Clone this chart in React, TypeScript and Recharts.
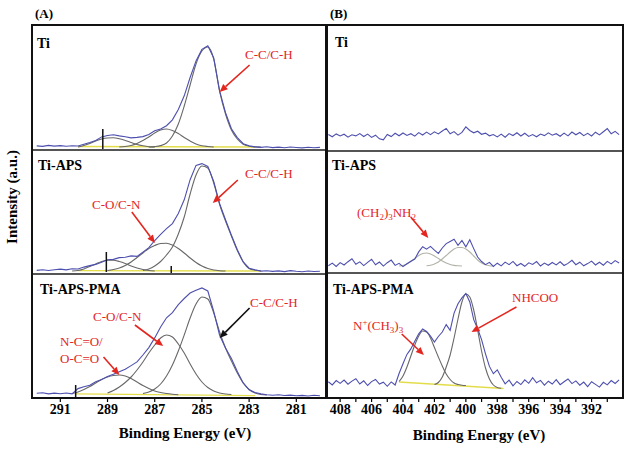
import React from 'react';
import { LineChart, Line, XAxis, YAxis, ReferenceLine } from 'recharts';

const FONT = '"Liberation Serif", "Times New Roman", Times, "DejaVu Serif", "Noto Serif", serif';
const BLUE = '#4d4fae';
const GREY = '#686868';
const GREY_LIGHT = '#b2b2a8';
const YELLOW = '#e3dd4c';
const RED = '#e3261f';

// C 1s energy grid (eV)
const EV_C = [
  292.0, 291.75, 291.5, 291.25, 291.0, 290.75, 290.5, 290.25, 290.0, 289.75,
  289.5, 289.25, 289.0, 288.75, 288.5, 288.25, 288.0, 287.75, 287.5, 287.25,
  287.0, 286.75, 286.5, 286.25, 286.0, 285.75, 285.5, 285.25, 285.0, 284.75,
  284.5, 284.25, 284.0, 283.75, 283.5, 283.25, 283.0, 282.75, 282.5, 282.25,
  282.0, 281.75, 281.5, 281.25, 281.0, 280.75, 280.5, 280.25, 280.0,
];

// N 1s energy grid (eV)
const EV_N = [
  408.75, 408.5, 408.25, 408.0, 407.75, 407.5, 407.25, 407.0, 406.75, 406.5,
  406.25, 406.0, 405.75, 405.5, 405.25, 405.0, 404.75, 404.5, 404.25, 404.0,
  403.75, 403.5, 403.25, 403.0, 402.75, 402.5, 402.25, 402.0, 401.75, 401.5,
  401.25, 401.0, 400.75, 400.5, 400.25, 400.0, 399.75, 399.5, 399.25, 399.0,
  398.75, 398.5, 398.25, 398.0, 397.75, 397.5, 397.25, 397.0, 396.75, 396.5,
  396.25, 396.0, 395.75, 395.5, 395.25, 395.0, 394.75, 394.5, 394.25, 394.0,
  393.75, 393.5, 393.25, 393.0, 392.75, 392.5, 392.25, 392.0, 391.75, 391.5,
  391.25, 391.0, 390.75, 390.5, 390.25,
];

const TICKS_C = [291, 289, 287, 285, 283, 281];
const TICKS_N = [408, 407, 406, 405, 404, 403, 402, 401, 400, 399, 398, 397, 396, 395, 394, 393, 392, 391];

// measured spectra (a.u.)
const TI_C = [
  4.1, 3.6, 4.6, 3.9, 4.4, 3.7, 4.3, 4.0, 5.7, 7.4, 9.6, 13.1, 14.5, 15.2, 14.1, 13.2, 12.1, 12.6, 13.4, 15.6,
  19.2, 21.1, 24.3, 30.2, 40.5, 54.2, 72.5, 89.1, 100.6, 104.3, 92.1, 59.2, 37.3, 21.2, 12.4, 6.3, 4.2, 3.1, 2.6, 3.2,
  2.4, 2.9, 2.2, 3.0, 2.5, 2.1, 2.8, 2.3, 2.6,
];
const APS_C = [
  3.6, 4.3, 3.5, 4.2, 4.9, 4.1, 5.2, 5.0, 6.9, 8.4, 9.6, 11.8, 14.3, 14.6, 16.4, 16.7, 18.1, 17.6, 21.9, 26.4,
  33.5, 39.6, 45.3, 50.4, 60.5, 74.2, 94.3, 108.6, 110.4, 107.6, 92.5, 70.4, 54.2, 38.7, 24.3, 12.1, 5.8, 4.2, 2.9, 3.3,
  2.6, 3.1, 2.4, 3.4, 2.7, 2.2, 3.0, 2.5, 2.8,
];
const PMA_C = [
  4.8, 5.2, 4.1, 4.9, 4.3, 5.0, 4.2, 9.4, 11.2, 12.7, 16.3, 18.4, 21.6, 23.7, 26.3, 28.8, 32.4, 36.1, 43.0, 50.4,
  60.1, 71.0, 80.2, 85.4, 93.3, 99.5, 105.0, 107.7, 110.1, 107.0, 86.6, 62.8, 49.9, 39.4, 26.5, 15.1, 8.2, 5.4, 4.1, 3.3,
  2.7, 3.2, 2.5, 2.9, 2.2, 2.6, 2.0, 2.7, 2.3,
];
const TI_N = [
  15.5, 13.2, 16.1, 14.0, 15.8, 12.9, 15.2, 14.1, 16.4, 13.5, 15.9, 12.6, 14.8, 11.2, 10.1, 15.6, 13.4, 16.7, 14.2, 17.0,
  14.6, 16.3, 13.9, 17.4, 15.0, 17.9, 15.3, 18.2, 16.1, 19.0, 21.6, 16.2, 18.4, 14.9, 17.6, 23.1, 19.5, 17.2, 18.8, 15.7,
  16.9, 14.2, 15.5, 13.1, 15.9, 12.8, 16.4, 14.5, 17.2, 14.0, 16.8, 13.6, 15.4, 13.2, 16.0, 14.4, 17.1, 14.8, 16.3, 13.7,
  16.9, 14.1, 18.0, 15.2, 17.5, 14.3, 16.6, 14.0, 17.8, 15.1, 18.3, 21.4, 16.2, 18.6, 15.4,
];
const APS_N = [
  8.2, 10.9, 7.6, 11.4, 9.0, 12.3, 15.2, 9.8, 12.1, 8.4, 11.6, 14.8, 9.2, 12.0, 7.9, 11.3, 13.9, 8.6, 10.7, 7.4,
  10.2, 12.8, 15.0, 22.1, 27.3, 24.9, 27.6, 23.8, 20.6, 26.0, 30.4, 32.6, 34.8, 28.7, 33.5, 27.1, 34.2, 25.4, 17.0, 12.5,
  9.3, 11.6, 7.5, 10.8, 8.1, 11.9, 9.4, 12.6, 8.3, 10.5, 7.7, 11.2, 9.6, 12.4, 8.0, 10.9, 8.7, 11.5, 9.1, 12.2,
  8.5, 10.6, 13.7, 9.3, 11.8, 8.2, 10.4, 12.9, 9.0, 11.7, 8.8, 12.6, 10.1, 13.4, 11.0,
];
const PMA_N = [
  16.2, 13.1, 17.4, 14.6, 18.0, 13.8, 16.9, 19.3, 14.0, 17.2, 12.5, 16.4, 18.6, 13.9, 15.8, 11.7, 16.1, 13.0, 24.5, 34.2,
  43.6, 49.1, 56.8, 64.2, 69.0, 66.5, 61.8, 55.9, 61.5, 66.0, 73.4, 67.6, 84.9, 94.3, 100.1, 104.6, 96.0, 78.4, 69.3, 58.4,
  44.2, 31.6, 24.3, 28.2, 20.8, 14.1, 17.8, 12.2, 16.5, 13.4, 18.1, 14.7, 20.3, 15.2, 17.6, 12.9, 16.8, 14.0, 18.4, 13.3,
  16.2, 19.0, 14.4, 17.1, 12.8, 15.9, 11.4, 16.3, 13.6, 10.9, 15.7, 13.1, 17.4, 14.5, 18.2,
];

// fitted components [eV, a.u.]
const TI_C_CC = [[287.25, 3], [287.0, 3.4], [286.75, 4.4], [286.5, 7], [286.25, 14], [286.0, 26], [285.75, 44], [285.5, 65], [285.25, 86], [285.0, 99], [284.75, 103], [284.5, 91], [284.25, 58.5], [284.0, 36], [283.75, 20], [283.5, 11], [283.25, 5.8], [283.0, 3.8], [282.75, 3.1], [282.5, 3]];
const TI_C_CO = [[288.5, 3], [288.25, 3.5], [288.0, 4.5], [287.75, 6.5], [287.5, 9.5], [287.25, 13], [287.0, 17], [286.75, 20], [286.5, 21], [286.25, 19.5], [286.0, 16.5], [285.75, 12.5], [285.5, 9], [285.25, 6], [285.0, 4.3], [284.75, 3.5], [284.5, 3]];
const TI_C_OCO = [[290.25, 3], [290.0, 4.5], [289.75, 6.5], [289.5, 9], [289.25, 11], [289.0, 12], [288.75, 12.2], [288.5, 11.2], [288.25, 9.5], [288.0, 7.5], [287.75, 5.5], [287.5, 4.2], [287.25, 3.3], [287.0, 3]];
const TI_C_BASE = [[290.25, 3.5], [282.75, 3]];

const APS_C_CC = [[287.5, 3.5], [287.25, 5], [287.0, 8], [286.75, 12.5], [286.5, 19], [286.25, 27], [286.0, 40], [285.75, 57], [285.5, 80], [285.25, 99], [285.0, 108], [284.75, 106], [284.5, 91], [284.25, 69.5], [284.0, 53], [283.75, 38], [283.5, 23.5], [283.25, 12], [283.0, 5.5], [282.75, 3.8], [282.5, 3.2]];
const APS_C_CO = [[289.0, 3.5], [288.75, 4.5], [288.5, 6], [288.25, 8.5], [288.0, 12], [287.75, 16.5], [287.5, 21], [287.25, 25.5], [287.0, 28.5], [286.75, 30.5], [286.5, 30.8], [286.25, 29], [286.0, 25.5], [285.75, 21], [285.5, 16], [285.25, 11.5], [285.0, 8], [284.75, 5.5], [284.5, 4], [284.25, 3.3], [284.0, 3]];
const APS_C_OCO = [[290.5, 3], [290.25, 3.5], [290.0, 5], [289.75, 7.5], [289.5, 10], [289.25, 12.5], [289.0, 13.8], [288.75, 13.8], [288.5, 12.5], [288.25, 10.5], [288.0, 8], [287.75, 6], [287.5, 4.5], [287.25, 3.5], [287.0, 3]];
const APS_C_BASE = [[290.25, 3.3], [282.5, 3]];

const PMA_C_CC = [[287.5, 4.5], [287.25, 6], [287.0, 9], [286.75, 14], [286.5, 22], [286.25, 33], [286.0, 47], [285.75, 63], [285.5, 80], [285.25, 94], [285.0, 101], [284.75, 99], [284.5, 85], [284.25, 66], [284.0, 50], [283.75, 37], [283.5, 25], [283.25, 15], [283.0, 8.5], [282.75, 5], [282.5, 3.5], [282.25, 3]];
const PMA_C_CO = [[289.0, 5], [288.75, 7.5], [288.5, 11], [288.25, 15.5], [288.0, 21], [287.75, 28], [287.5, 36], [287.25, 45], [287.0, 53], [286.75, 60], [286.5, 63], [286.25, 61], [286.0, 54], [285.75, 45], [285.5, 34], [285.25, 24], [285.0, 16], [284.75, 10.5], [284.5, 7], [284.25, 5], [284.0, 4], [283.75, 3.5]];
const PMA_C_NCO = [[290.5, 4.5], [290.25, 6], [290.0, 8.5], [289.75, 11.5], [289.5, 15], [289.25, 18.5], [289.0, 21], [288.75, 22.5], [288.5, 23], [288.25, 22], [288.0, 19.5], [287.75, 16], [287.5, 12.5], [287.25, 9.5], [287.0, 7], [286.75, 5.5], [286.5, 4.5], [286.25, 3.8], [286.0, 3.3]];
const PMA_C_BASE = [[290.35, 4.2], [282.75, 2.4]];

const APS_N_1 = [[404.25, 8], [404.0, 8.5], [403.75, 10], [403.5, 12.5], [403.25, 15.5], [403.0, 18.5], [402.75, 20.5], [402.5, 21], [402.25, 20], [402.0, 18], [401.75, 15.5], [401.5, 13], [401.25, 11], [401.0, 9.5], [400.75, 8.6], [400.5, 8.2], [400.25, 8]];
const APS_N_2 = [[402.5, 8.2], [402.25, 8.8], [402.0, 10], [401.75, 12], [401.5, 15], [401.25, 18.5], [401.0, 22], [400.75, 25], [400.5, 26.5], [400.25, 26.5], [400.0, 25], [399.75, 22], [399.5, 18], [399.25, 14], [399.0, 11], [398.75, 9.2], [398.5, 8.3], [398.25, 8]];

const PMA_N_1 = [[404.25, 16.5], [404.0, 22], [403.75, 31], [403.5, 42], [403.25, 53], [403.0, 62], [402.75, 67], [402.5, 66], [402.25, 60], [402.0, 50.5], [401.75, 41], [401.5, 32], [401.25, 24], [401.0, 18.5], [400.75, 15], [400.5, 13.5], [400.25, 12.8], [400.0, 12.5]];
const PMA_N_2 = [[402.0, 13.5], [401.75, 15.5], [401.5, 21], [401.25, 31], [401.0, 43], [400.75, 60], [400.5, 79], [400.25, 96], [400.0, 104], [399.75, 101], [399.5, 88], [399.25, 68], [399.0, 47], [398.75, 30], [398.5, 19], [398.25, 13], [398.0, 10.5], [397.75, 9.8]];
const PMA_N_BASE = [[404.25, 16], [397.6, 9.5]];

// fit range markers [eV, from, to]
const TI_C_MARKS = [[289.2, 1, 21]];
const APS_C_MARKS = [[289.05, 2, 22], [286.3, 0.5, 8]];
const PMA_C_MARKS = [[290.35, 0, 13]];

// annotation arrows: from [eV, a.u.] -> to [eV, a.u.]
const TI_C_ARROWS = [{ from: [282.98, 85], to: [284.25, 58], color: RED }];
const APS_C_ARROWS = [
  { from: [283.48, 94], to: [284.54, 71], color: RED },
  { from: [287.97, 62], to: [286.99, 31], color: RED },
];
const PMA_C_ARROWS = [
  { from: [282.98, 90], to: [284.25, 60], color: '#111' },
  { from: [287.84, 73], to: [286.64, 52], color: RED },
  { from: [289.17, 41], to: [288.5, 23], color: RED },
];
const APS_N_ARROWS = [{ from: [403.51, 57], to: [402.39, 36], color: RED }];
const PMA_N_ARROWS = [
  { from: [404.08, 64], to: [402.67, 43], color: RED },
  { from: [396.78, 91], to: [399.64, 66], color: RED },
];

const ROW_H = 124;
const ROW_TOPS = [26, 150, 274];
const COL_A = { left: 32, width: 295, domain: [279.7, 292.2] };
const COL_B = { left: 326, width: 297, domain: [390.0, 408.9] };

const zip = (evs: number[], vals: number[]) => evs.map((ev, i) => ({ ev, v: vals[i] }));
const pairs = (list: number[][]) => list.map(([ev, v]) => ({ ev, v }));

function arrowShape(color: string) {
  return (p: any) => {
    const { x1, y1, x2, y2 } = p;
    const a = Math.atan2(y2 - y1, x2 - x1);
    const len = 8;
    const half = 3.5;
    const bx = x2 - len * Math.cos(a);
    const by = y2 - len * Math.sin(a);
    const nx = -Math.sin(a) * half;
    const ny = Math.cos(a) * half;
    return (
      <g>
        <line x1={x1} y1={y1} x2={bx} y2={by} stroke={color} strokeWidth={1.6} />
        <polygon points={`${x2},${y2} ${bx + nx},${by + ny} ${bx - nx},${by - ny}`} fill={color} />
      </g>
    );
  };
}

const tickText = (evenOnly: boolean) => (props: any) => {
  const { x, y, payload } = props;
  if (evenOnly && payload.value % 2 !== 0) return <g />;
  return (
    <text x={x} y={y} dy="0.71em" textAnchor="middle" fontSize={14} fontWeight="bold" fill="#000" style={{ fontFamily: FONT }}>
      {payload.value}
    </text>
  );
};

function Panel({ col, row, evs, raw, fits = [], fitColor = GREY, base, marks = [], arrows = [], ticks, evenOnly = false }: any) {
  const axis = !!ticks;
  return (
    <div style={{ position: 'absolute', left: col.left, top: ROW_TOPS[row] }}>
      <LineChart width={col.width} height={axis ? ROW_H + 26 : ROW_H} margin={{ top: 0, right: 0, bottom: 0, left: 0 }}>
        <XAxis
          type="number"
          dataKey="ev"
          domain={col.domain}
          reversed
          allowDataOverflow
          hide={!axis}
          ticks={ticks}
          interval={0}
          tickSize={4}
          tickLine={{ stroke: '#000', strokeWidth: 1.2 }}
          axisLine={false}
          height={26}
          tick={tickText(evenOnly)}
        />
        <YAxis type="number" domain={[0, ROW_H]} hide allowDataOverflow />
        {base && (
          <Line data={pairs(base)} dataKey="v" type="linear" stroke={YELLOW} strokeWidth={1.3} dot={false} isAnimationActive={false} />
        )}
        {fits.map((f: number[][], i: number) => (
          <Line key={i} data={pairs(f)} dataKey="v" type="monotone" stroke={fitColor} strokeWidth={1.1} dot={false} isAnimationActive={false} />
        ))}
        <Line data={zip(evs, raw)} dataKey="v" type="linear" stroke={BLUE} strokeWidth={1.1} dot={false} isAnimationActive={false} />
        {marks.map((m: number[], i: number) => (
          <ReferenceLine key={'m' + i} segment={[{ x: m[0], y: m[1] }, { x: m[0], y: m[2] }]} stroke="#111" strokeWidth={1.5} ifOverflow="visible" />
        ))}
        {arrows.map((a: any, i: number) => (
          <ReferenceLine
            key={'a' + i}
            segment={[{ x: a.from[0], y: a.from[1] }, { x: a.to[0], y: a.to[1] }]}
            stroke={a.color}
            ifOverflow="visible"
            shape={arrowShape(a.color)}
          />
        ))}
      </LineChart>
    </div>
  );
}

function Overlay() {
  const lbl = { fontWeight: 'bold' as const, fill: '#000', style: { fontFamily: FONT } };
  const red = { fill: RED, fontSize: 13, style: { fontFamily: FONT } };
  return (
    <svg width={629} height={450} style={{ position: 'absolute', left: 0, top: 0, pointerEvents: 'none' }}>
      <rect x={32} y={25} width={294} height={373} fill="none" stroke="#111" strokeWidth={2} />
      <rect x={327} y={25} width={296} height={373} fill="none" stroke="#111" strokeWidth={2} />
      <line x1={33} x2={325} y1={150} y2={150} stroke="#555" strokeWidth={2} />
      <line x1={33} x2={325} y1={274} y2={274} stroke="#555" strokeWidth={2} />
      <line x1={328} x2={622} y1={151} y2={151} stroke="#555" strokeWidth={2} />
      <line x1={328} x2={622} y1={273} y2={273} stroke="#555" strokeWidth={2} />

      <text x={35} y={18} fontSize={13} {...lbl}>(A)</text>
      <text x={330} y={18} fontSize={13} {...lbl}>(B)</text>

      <text x={37} y={48} fontSize={14} {...lbl}>Ti</text>
      <text x={38} y={170} fontSize={14} {...lbl}>Ti-APS</text>
      <text x={40} y={294} fontSize={14} {...lbl}>Ti-APS-PMA</text>
      <text x={335} y={47} fontSize={14} {...lbl}>Ti</text>
      <text x={332} y={170} fontSize={14} {...lbl}>Ti-APS</text>
      <text x={333} y={294} fontSize={14} {...lbl}>Ti-APS-PMA</text>

      <text x={245} y={58.5} {...red}>C-C/C-H</text>
      <text x={245} y={177.5} {...red}>C-C/C-H</text>
      <text x={92} y={208.5} {...red}>C-O/C-N</text>
      <text x={250} y={306.5} {...red}>C-C/C-H</text>
      <text x={93} y={320.5} {...red}>C-O/C-N</text>
      <text x={60} y={345.5} {...red}>N-C=O/</text>
      <text x={60} y={362.5} {...red}>O-C=O</text>
      <text x={357} y={216.5} {...red}>
        (CH<tspan fontSize={9} dy={3}>2</tspan>
        <tspan dy={-3}>)</tspan>
        <tspan fontSize={9} dy={3}>3</tspan>
        <tspan dy={-3}>NH</tspan>
        <tspan fontSize={9} dy={3}>2</tspan>
      </text>
      <text x={353} y={329.5} {...red}>
        N<tspan fontSize={9} dy={-5}>+</tspan>
        <tspan dy={5}>(CH</tspan>
        <tspan fontSize={9} dy={3}>3</tspan>
        <tspan dy={-3}>)</tspan>
        <tspan fontSize={9} dy={3}>3</tspan>
      </text>
      <text x={512} y={301.5} {...red}>NHCOO</text>

      <text transform="rotate(-90)" x={-197} y={17} textAnchor="middle" fontSize={15} {...lbl}>Intensity (a.u.)</text>
      <text x={185} y={438} textAnchor="middle" fontSize={15} {...lbl}>Binding Energy (eV)</text>
      <text x={479} y={440} textAnchor="middle" fontSize={15} {...lbl}>Binding Energy (eV)</text>
    </svg>
  );
}

export default function App() {
  return (
    <div style={{ position: 'absolute', left: 0, top: 0, width: 629, height: 450, background: '#fff', fontFamily: FONT }}>
      <Panel col={COL_A} row={0} evs={EV_C} raw={TI_C} fits={[TI_C_OCO, TI_C_CO, TI_C_CC]} base={TI_C_BASE} marks={TI_C_MARKS} arrows={TI_C_ARROWS} />
      <Panel col={COL_A} row={1} evs={EV_C} raw={APS_C} fits={[APS_C_OCO, APS_C_CO, APS_C_CC]} base={APS_C_BASE} marks={APS_C_MARKS} arrows={APS_C_ARROWS} />
      <Panel col={COL_A} row={2} evs={EV_C} raw={PMA_C} fits={[PMA_C_NCO, PMA_C_CO, PMA_C_CC]} base={PMA_C_BASE} marks={PMA_C_MARKS} arrows={PMA_C_ARROWS} ticks={TICKS_C} />
      <Panel col={COL_B} row={0} evs={EV_N} raw={TI_N} />
      <Panel col={COL_B} row={1} evs={EV_N} raw={APS_N} fits={[APS_N_1, APS_N_2]} fitColor={GREY_LIGHT} arrows={APS_N_ARROWS} />
      <Panel col={COL_B} row={2} evs={EV_N} raw={PMA_N} fits={[PMA_N_1, PMA_N_2]} base={PMA_N_BASE} arrows={PMA_N_ARROWS} ticks={TICKS_N} evenOnly />
      <Overlay />
    </div>
  );
}
